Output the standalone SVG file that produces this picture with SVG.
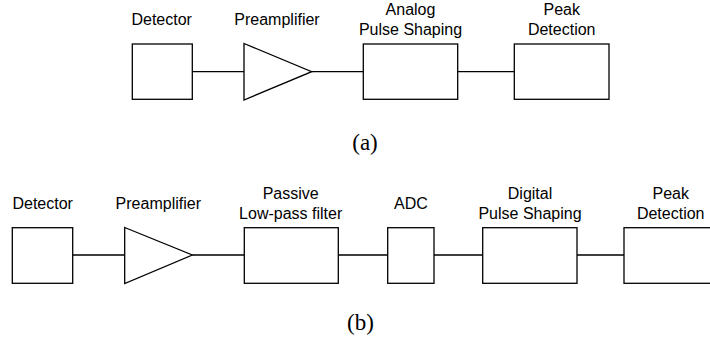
<svg xmlns="http://www.w3.org/2000/svg" width="710" height="342" viewBox="0 0 710 342">
<style>
.b{fill:#fff;stroke:#000;stroke-width:1.3}
.l{fill:none;stroke:#000;stroke-width:1.3}
.t{font-family:"Liberation Sans",Arial,sans-serif;font-size:16px;text-anchor:middle;fill:#000}
.c{font-family:"Liberation Serif","Times New Roman",serif;font-size:23px;text-anchor:middle;fill:#000}
</style>
<rect width="710" height="342" fill="#fff"/>
<g id="connectors">
<path class="l" d="M192.3,71.7H244M311.7,71.7H363.3M457.7,71.7H514.3"/>
<path class="l" d="M72.7,255H124.7M192.3,255H244.3M338.3,255H387.7M434,255H482.7M577,255H624"/>
</g>
<g id="a-detector"><rect class="b" x="132.3" y="44" width="60" height="55.3"/><text class="t" x="161.7" y="25.3">Detector</text></g>
<g id="a-preamp"><path class="b" d="M244,43.5L311.7,71.7L244,100Z"/><text class="t" x="277" y="25.3">Preamplifier</text></g>
<g id="a-shaping"><rect class="b" x="363.3" y="44" width="94.4" height="55.3"/><text class="t" x="410.5" y="15.3">Analog</text><text class="t" x="410.5" y="34.8">Pulse Shaping</text></g>
<g id="a-peak"><rect class="b" x="514.3" y="44" width="94.7" height="55.3"/><text class="t" x="561.7" y="15.3">Peak</text><text class="t" x="561.7" y="34.8">Detection</text></g>
<text class="c" x="365" y="150">(a)</text>
<g id="b-detector"><rect class="b" x="12.3" y="227.7" width="60.4" height="55.6"/><text class="t" x="42.7" y="209.3">Detector</text></g>
<g id="b-preamp"><path class="b" d="M124.7,227.5L192.3,255L124.7,283.5Z"/><text class="t" x="158.3" y="209.3">Preamplifier</text></g>
<g id="b-filter"><rect class="b" x="244.3" y="227.7" width="94" height="55.6"/><text class="t" x="290.7" y="198.8">Passive</text><text class="t" x="290.7" y="218.8">Low-pass filter</text></g>
<g id="b-adc"><rect class="b" x="387.7" y="227.7" width="46.3" height="55.6"/><text class="t" x="411" y="209.3">ADC</text></g>
<g id="b-shaping"><rect class="b" x="482.7" y="227.7" width="94.3" height="55.6"/><text class="t" x="530" y="198.8">Digital</text><text class="t" x="530" y="218.8">Pulse Shaping</text></g>
<g id="b-peak"><rect class="b" x="624" y="227.7" width="95" height="55.6"/><text class="t" x="670.7" y="198.8">Peak</text><text class="t" x="670.7" y="218.8">Detection</text></g>
<text class="c" x="360.5" y="329.5">(b)</text>
</svg>
